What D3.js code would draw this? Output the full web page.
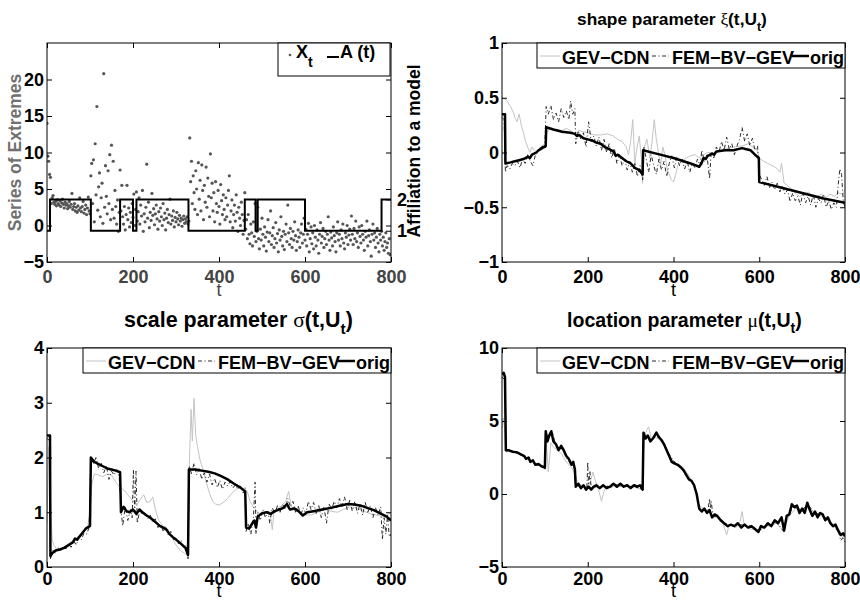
<!DOCTYPE html>
<html>
<head>
<meta charset="utf-8">
<script src="https://cdn.jsdelivr.net/npm/d3@7"></script>
<style>
  body { margin: 0; background: #fff; }
  svg { font-family: "Liberation Sans", Arial, Helvetica, sans-serif; font-weight: bold; }
</style>
</head>
<body>
<script>
// ---- data ----
const timeTicks = [0, 200, 400, 600, 800];

// series of extremes X_t, one value every 2 time steps starting at t = 0
const extremesStep = 2;
const extremes = [
  14.0, 9.5, 8.8, 7.0, 6.6,
  3.0, 3.8, 4.1, 3.2, 2.9, 3.3, 2.7, 3.5, 3.0, 2.8, 3.4, 2.6, 3.1, 3.6, 2.9, 2.4, 3.2, 2.8, 3.0, 2.3,
  2.7, 3.3, 2.5, 2.9, 4.4, 2.2, 2.6, 3.0, 2.0, 2.5, 1.8, 2.7, 2.1, 3.8, 2.4, 1.9, 2.6, 3.3, 1.7, 2.2,
  2.8, 1.5, 2.4, 3.9, 2.0, 1.6,
  6.8, 8.5, 3.0, 9.0, 0.5, 11.2, 4.2, 16.3, 2.1, 5.3, 7.2, 1.2, 3.8, 5.8, 0.3, 20.8, 2.5, 8.2, 4.0, 1.6,
  7.5, 3.0, 9.7, 0.8, 11.0, 2.2, 8.8, 1.0, 4.8, 2.6, 0.2, 3.5, -0.8, 1.8, 7.6,
  2.0, 5.5, 1.2, 0.2, 2.6, -0.6, 1.5, 5.5, 0.8, 2.4, -0.2, 1.8, 0.4, 3.0, 1.1, 4.3, 0.0, 2.2, 4.6, 0.6,
  1.9, 3.8, 0.2, 2.8, 1.3, 4.8, -0.8, 1.6, 0.5, 2.5, 8.4, 1.0, 3.2, -0.3, 1.8, 0.7, 4.4, 1.4, 2.3, 0.1,
  1.6, 2.8, 0.9, -0.5, 1.9, 0.6, 2.4, 1.2, 0.0, 3.0, 0.8, 1.7, -0.6, 1.0, 2.2, 0.4, 1.5, 3.6, 0.2, 1.3,
  0.7, 2.0, -0.2, 1.1, 0.5, 1.8, 0.9, 0.1, 1.4, 0.6, 1.0, -0.1, 0.8, 1.3, 0.3, 0.9, 0.5, 1.2, 0.2, 0.6,
  12.0, 6.0, 8.8, 3.0, 6.8, 4.5, 2.2, 7.5, 5.0, 1.5, 8.6, 3.6, 6.2, 2.0, 8.3, 4.8, 0.8, 5.5, 3.2, 8.0,
  2.5, 6.5, 4.0, 1.2, 9.8, 3.8, 5.8, 2.0, 4.5, 0.5, 6.0, 3.0, 1.8, 4.8, 2.6, 0.2, 5.6, 3.4, 1.5, 4.2,
  2.2, 0.8, 3.8, 1.2, 2.8, 4.8, 6.8, 0.5, 2.0, 3.5, -0.3, 1.5, 2.8, 0.6, 4.2, 1.8, -0.8, 2.5, 1.0, 0.0,
  3.2, 1.5, -1.2, 0.7, 4.5,
  -0.5, 0.8, -1.8, 1.5, -1.2, -2.5, 0.2, -1.0, -2.8, 0.5, -1.5, 3.0, -2.2, -0.8, 2.5, -1.8, -3.2, -0.5, -2.0, 1.0,
  -1.2, -2.8, -0.2, -1.6, -3.5, -0.9, 0.8, -2.2, -1.0, 2.0, -2.6, -1.4, -0.3, -3.0, -1.8, 0.4, -2.4, -1.1, -3.6, -0.6,
  -2.0, 1.2, -1.5, -2.8, -0.8, -3.3, -1.2, 0.2, -2.2, 2.8, -1.0, -2.6, -0.4, -1.8, -3.0, -0.8, -2.0, 0.5, -1.4, -3.4,
  -2.2, -0.6, -1.6, -3.0, -1.0, 0.2, -2.4, -1.2, 1.0, -2.0,
  -0.5, -2.8, -1.2, 0.3, -3.6, -1.8, -0.2, -2.5, -1.0, -3.2, 0.0, -1.6, -2.8, -0.6, -2.0, -3.8, -1.2, 0.4, -2.4, -1.5,
  -0.4, -3.0, -1.8, -0.8, -2.6, -1.2, 1.2, -2.0, -3.4, -0.9, -1.7, -2.8, -0.2, -1.4, -2.2, -3.6, -1.0, 0.5, -2.0, -1.2,
  -2.8, -0.6, -1.8, 0.2, -2.4, -3.2, -1.0, -1.6, 0.0, -2.6, -1.3, -0.5, -2.0, 1.3, -1.2, -2.6, -0.4, -1.8, 0.6, -2.2,
  -1.0, -3.0, -0.2, -1.5, -2.4, 0.0, -1.2, -2.0, -3.4, -0.8, -1.6, 0.6, -2.8, -1.4, -0.6, -2.2, -4.2, -1.2, 0.2, -2.0,
  -1.0, -3.0, -1.6, -0.4, -2.4, -3.6, -1.2, -2.0, -0.8, -2.8, -1.6, -3.4, -2.2, -1.0, -3.0, -2.4, -3.8, -1.8, -4.0
];

// affiliation to a model A(t): change points and the value from each on
const affiliationT = [0, 7, 102, 170, 200, 208, 329, 460, 485, 490, 600, 778, 800];
const affiliationV = [1, 2, 1, 2, 1, 2, 1, 2, 1, 2, 1, 2, 2];

// shape parameter xi(t,U_t)
const shapeOrig = [[0,0.35],[7,0.35],[8,-0.1],[20,-0.09],[30,-0.08],[40,-0.07],[50,-0.06],[60,-0.04],[65,-0.05],[70,-0.02],[80,0.0],[85,0.02],[90,0.03],[95,0.05],[100,0.05],[102,0.06],[103,0.23],[120,0.21],[140,0.19],[160,0.18],[170,0.17],[175,0.15],[180,0.16],[190,0.13],[200,0.12],[210,0.11],[220,0.09],[230,0.08],[240,0.05],[250,0.03],[260,0.01],[265,-0.03],[270,-0.02],[280,-0.05],[290,-0.08],[300,-0.1],[310,-0.14],[320,-0.16],[328,-0.2],[329,0.02],[360,-0.01],[400,-0.05],[440,-0.1],[460,-0.13],[465,-0.1],[470,-0.05],[475,-0.06],[480,-0.03],[490,-0.01],[495,-0.02],[500,0.01],[520,0.02],[540,0.02],[560,0.04],[570,0.03],[580,0.02],[590,-0.02],[599,-0.05],[600,-0.27],[650,-0.32],[700,-0.37],[750,-0.42],[800,-0.46]];
const shapeCdn = [[0,0.5],[10,0.48],[20,0.42],[25,0.38],[30,0.32],[35,0.28],[40,0.35],[45,0.25],[50,0.18],[55,0.1],[60,0.05],[65,0.0],[70,0.05],[75,0.02],[80,0.0],[90,0.05],[100,0.08],[105,0.18],[110,0.22],[120,0.2],[130,0.21],[140,0.2],[150,0.22],[160,0.2],[170,0.17],[180,0.2],[190,0.19],[200,0.18],[215,0.16],[230,0.16],[245,0.17],[260,0.15],[270,0.12],[280,0.1],[290,0.05],[295,-0.02],[300,0.1],[305,0.3],[310,-0.1],[315,0.05],[320,0.15],[325,-0.05],[328,-0.28],[332,0.05],[338,0.12],[345,-0.05],[350,0.1],[355,0.3],[360,0.12],[365,0.0],[370,-0.12],[375,0.05],[380,-0.02],[385,-0.15],[390,-0.2],[395,-0.25],[400,-0.27],[405,-0.2],[410,-0.12],[420,-0.08],[430,-0.05],[440,-0.03],[450,-0.02],[460,-0.05],[470,-0.02],[480,0.0],[500,0.0],[520,0.03],[540,0.05],[560,0.06],[575,0.08],[585,0.05],[595,0.02],[600,-0.05],[610,-0.08],[620,-0.1],[630,-0.12],[640,-0.14],[648,-0.18],[652,-0.1],[658,-0.28],[665,-0.3],[675,-0.33],[685,-0.38],[695,-0.4],[705,-0.38],[715,-0.36],[725,-0.42],[735,-0.4],[745,-0.38],[755,-0.41],[765,-0.38],[775,-0.4],[785,-0.37],[795,-0.38],[800,-0.34]];
const shapeFem = [[0,0.32],[5,0.3],[8,-0.18],[12,-0.12],[18,-0.15],[24,-0.1],[30,-0.12],[36,-0.08],[42,-0.14],[48,-0.06],[54,-0.1],[60,-0.02],[66,-0.08],[72,-0.12],[78,-0.02],[84,0.0],[90,0.05],[96,0.02],[100,0.08],[103,0.42],[108,0.35],[114,0.43],[120,0.3],[126,0.36],[132,0.28],[138,0.4],[144,0.32],[150,0.38],[156,0.3],[160,0.47],[165,0.35],[170,0.4],[172,0.08],[178,0.2],[184,0.12],[190,0.18],[196,0.05],[202,0.28],[208,0.1],[214,0.15],[220,0.06],[226,0.14],[232,0.02],[238,0.12],[244,0.0],[250,0.08],[256,-0.05],[262,0.04],[268,-0.1],[274,-0.02],[280,-0.12],[286,-0.06],[292,-0.16],[298,-0.08],[304,-0.18],[310,-0.1],[316,-0.22],[322,-0.12],[328,-0.25],[331,0.05],[336,-0.05],[342,-0.18],[348,-0.02],[354,-0.12],[360,-0.2],[366,-0.06],[372,-0.16],[378,-0.08],[384,-0.22],[390,-0.1],[396,-0.03],[402,-0.14],[408,-0.04],[414,-0.12],[420,-0.06],[426,-0.15],[432,-0.08],[438,-0.18],[444,-0.1],[450,-0.14],[456,-0.06],[462,-0.12],[466,0.02],[472,-0.08],[478,-0.02],[484,-0.24],[488,0.0],[494,-0.05],[500,0.05],[506,0.0],[512,0.1],[518,0.02],[524,0.14],[530,0.03],[536,0.08],[542,-0.02],[548,0.06],[554,0.12],[560,0.23],[566,0.1],[572,0.17],[578,0.06],[584,0.13],[590,0.02],[596,0.06],[600,-0.2],[606,-0.25],[612,-0.3],[618,-0.22],[624,-0.32],[630,-0.27],[636,-0.34],[642,-0.28],[648,-0.36],[654,-0.3],[660,-0.38],[666,-0.34],[672,-0.45],[678,-0.37],[684,-0.44],[690,-0.4],[696,-0.48],[702,-0.36],[708,-0.46],[714,-0.4],[720,-0.48],[726,-0.38],[732,-0.5],[738,-0.42],[744,-0.46],[750,-0.38],[756,-0.5],[762,-0.44],[768,-0.52],[774,-0.46],[780,-0.5],[784,-0.3],[788,-0.15],[792,-0.2],[796,-0.45],[800,-0.5]];

// scale parameter sigma(t,U_t)
const sigmaOrig = [[0,2.4],[7,2.4],[8,0.2],[12,0.25],[20,0.3],[30,0.32],[40,0.35],[50,0.4],[60,0.45],[65,0.52],[70,0.5],[80,0.6],[90,0.7],[100,0.75],[102,2.0],[110,1.92],[120,1.88],[130,1.84],[140,1.8],[150,1.78],[160,1.76],[170,1.73],[172,1.0],[178,1.1],[185,1.02],[192,1.0],[200,1.05],[208,0.97],[215,1.05],[222,1.0],[230,0.95],[240,0.9],[248,0.85],[255,0.8],[262,0.75],[270,0.72],[278,0.68],[285,0.6],[292,0.55],[300,0.5],[308,0.45],[315,0.4],[322,0.35],[328,0.22],[330,1.78],[345,1.78],[360,1.76],[375,1.74],[390,1.71],[405,1.66],[420,1.6],[435,1.52],[450,1.45],[461,1.38],[463,0.72],[470,0.7],[476,0.78],[482,0.85],[486,0.72],[490,0.92],[500,0.98],[510,1.0],[520,0.97],[530,1.02],[540,1.05],[550,1.08],[558,1.15],[565,1.05],[575,1.07],[585,1.02],[595,0.94],[605,1.0],[620,1.02],[640,1.05],[660,1.08],[680,1.12],[700,1.15],[715,1.14],[730,1.12],[745,1.08],[760,1.04],[775,0.98],[790,0.92],[800,0.85]];
const sigmaCdn = [[0,0.8],[4,2.2],[8,1.2],[12,0.5],[16,0.4],[25,0.3],[35,0.32],[45,0.38],[55,0.45],[65,0.5],[75,0.58],[85,0.65],[95,0.75],[100,1.0],[104,1.5],[110,1.7],[120,1.68],[130,1.65],[140,1.7],[150,1.68],[160,1.55],[170,1.45],[180,1.4],[190,1.3],[200,1.2],[210,1.15],[218,1.25],[225,1.32],[232,1.18],[240,1.2],[246,1.28],[252,1.05],[260,0.85],[270,0.75],[280,0.7],[290,0.55],[300,0.4],[310,0.3],[320,0.25],[328,0.2],[331,1.9],[335,2.88],[338,2.3],[342,3.08],[346,2.4],[350,2.2],[356,1.95],[362,1.8],[370,1.55],[378,1.35],[385,1.2],[392,1.15],[400,1.13],[410,1.18],[420,1.25],[430,1.35],[440,1.42],[450,1.46],[460,1.42],[466,1.38],[472,1.2],[480,1.1],[490,1.0],[500,0.95],[510,1.0],[518,1.02],[524,0.68],[528,1.02],[535,1.05],[545,1.12],[555,1.2],[562,1.38],[568,1.1],[578,1.05],[590,1.0],[600,0.95],[615,0.95],[630,1.0],[645,1.05],[660,1.02],[675,1.0],[690,1.05],[705,1.1],[720,1.08],[735,1.02],[750,0.98],[765,0.95],[780,0.92],[792,0.95],[800,1.0]];
const sigmaFem = [[0,2.35],[7,2.3],[8,0.15],[14,0.3],[20,0.25],[26,0.35],[32,0.3],[38,0.38],[44,0.33],[50,0.42],[56,0.36],[62,0.48],[68,0.4],[74,0.55],[80,0.5],[86,0.62],[92,0.6],[98,0.72],[102,1.95],[108,1.88],[114,2.0],[120,1.8],[126,1.9],[132,1.72],[138,1.85],[144,1.6],[150,1.75],[156,1.68],[162,1.78],[168,1.65],[172,1.05],[176,0.75],[182,1.1],[188,0.85],[194,1.05],[198,0.9],[201,1.78],[204,1.0],[207,1.75],[210,0.8],[216,1.05],[222,0.95],[228,1.0],[234,0.88],[240,0.95],[246,0.82],[252,0.88],[258,0.72],[264,0.78],[270,0.66],[276,0.75],[282,0.58],[288,0.65],[294,0.5],[300,0.55],[306,0.42],[312,0.48],[318,0.35],[324,0.4],[328,0.15],[331,1.85],[336,1.7],[342,1.9],[348,1.68],[354,1.8],[360,1.6],[366,1.72],[372,1.55],[378,1.7],[384,1.5],[390,1.62],[396,1.45],[402,1.58],[408,1.42],[414,1.55],[420,1.48],[426,1.56],[432,1.44],[438,1.5],[444,1.42],[450,1.48],[456,1.35],[461,1.45],[463,0.65],[468,0.8],[474,0.6],[480,0.9],[484,1.55],[486,0.6],[490,1.0],[496,0.85],[502,1.05],[508,0.9],[514,1.02],[518,0.8],[524,1.08],[530,0.98],[536,1.12],[542,1.0],[548,1.15],[554,1.05],[560,1.25],[566,1.1],[572,1.2],[578,1.0],[584,1.12],[590,0.95],[596,1.08],[602,0.98],[608,1.2],[614,1.05],[620,1.18],[626,0.98],[632,1.12],[638,0.9],[644,1.1],[650,0.8],[656,1.15],[662,1.05],[668,1.2],[674,1.08],[680,1.25],[686,1.1],[692,1.28],[698,1.05],[704,1.22],[710,1.02],[716,1.2],[722,0.98],[728,1.15],[734,0.95],[740,1.18],[746,1.0],[752,1.12],[758,0.9],[764,1.08],[770,0.95],[776,1.1],[780,0.5],[784,0.9],[788,0.6],[792,0.95],[796,0.55],[800,0.6]];

// location parameter mu(t,U_t)
const muOrig = [[0,8.2],[4,8.3],[7,8.0],[9,3.0],[15,3.0],[25,2.9],[35,2.85],[45,2.7],[52,2.6],[56,2.4],[62,2.5],[66,2.2],[72,2.3],[78,2.0],[85,2.05],[92,1.9],[100,1.8],[102,4.3],[106,3.6],[110,4.0],[115,4.3],[120,3.6],[126,3.4],[132,3.0],[138,3.3],[144,3.0],[150,2.6],[156,2.4],[162,2.0],[166,2.2],[170,1.7],[172,0.5],[178,0.7],[184,0.4],[190,0.6],[196,0.3],[202,0.5],[208,0.3],[214,0.5],[220,0.6],[228,0.4],[236,0.6],[244,0.4],[252,0.5],[260,0.7],[268,0.5],[276,0.7],[284,0.5],[292,0.6],[300,0.4],[308,0.6],[316,0.5],[322,0.6],[328,0.3],[330,4.2],[335,3.8],[340,4.0],[346,3.6],[352,3.8],[360,4.2],[366,3.9],[372,3.7],[378,3.4],[384,3.0],[390,2.6],[396,2.2],[402,2.1],[410,2.0],[418,1.8],[424,1.6],[430,1.3],[436,1.0],[442,0.9],[448,0.6],[454,0.0],[460,-1.0],[466,-1.2],[472,-1.0],[478,-1.3],[484,-1.1],[490,-1.6],[496,-1.4],[502,-1.5],[510,-1.8],[518,-2.0],[526,-2.2],[534,-2.1],[542,-2.2],[550,-2.0],[558,-2.3],[566,-2.1],[574,-2.3],[582,-2.2],[590,-2.4],[598,-2.6],[604,-2.2],[612,-2.3],[620,-2.0],[628,-2.2],[636,-1.8],[644,-2.0],[652,-1.6],[658,-2.5],[664,-1.5],[670,-1.4],[676,-0.7],[682,-0.9],[688,-0.8],[694,-1.3],[700,-1.0],[706,-1.3],[712,-0.6],[718,-1.1],[724,-1.5],[730,-1.2],[736,-1.6],[742,-1.3],[748,-1.4],[754,-1.8],[760,-1.6],[766,-2.0],[772,-2.2],[778,-2.1],[784,-2.5],[790,-2.8],[796,-2.7],[800,-2.9]];
const muCdn = [[0,4.5],[3,5.2],[6,4.5],[9,3.0],[20,2.9],[40,2.8],[60,2.4],[80,2.1],[100,1.8],[103,3.8],[108,1.5],[114,3.5],[120,3.2],[130,3.0],[140,2.7],[150,2.2],[160,1.9],[170,1.4],[175,0.9],[185,0.6],[195,0.5],[205,0.7],[212,1.5],[218,0.9],[225,0.3],[232,-0.5],[238,0.2],[245,0.6],[255,0.4],[265,0.7],[275,0.5],[285,0.6],[295,0.5],[305,0.6],[315,0.4],[328,0.3],[331,3.8],[338,4.4],[342,4.6],[348,3.8],[355,3.9],[365,3.8],[375,3.4],[385,3.0],[395,2.4],[405,2.0],[420,1.9],[435,1.3],[450,0.5],[460,-0.8],[470,-1.0],[480,-1.2],[490,-1.5],[500,-1.6],[515,-2.0],[524,-2.8],[530,-2.1],[545,-2.3],[555,-1.9],[560,-1.2],[565,-2.2],[580,-2.4],[600,-2.5],[620,-2.2],[640,-2.0],[655,-2.5],[670,-1.5],[685,-1.0],[700,-1.1],[715,-0.8],[730,-1.4],[745,-1.5],[760,-1.8],[775,-2.2],[790,-2.8],[800,-3.2]];
const muFem = [[0,8.0],[8,7.8],[9,2.9],[20,2.9],[35,2.8],[50,2.6],[65,2.3],[80,2.0],[95,1.9],[100,1.7],[102,4.1],[110,3.9],[118,4.2],[126,3.2],[134,3.1],[142,3.0],[150,2.5],[160,2.1],[168,2.0],[172,0.6],[182,0.5],[192,0.5],[198,0.4],[200,2.2],[202,0.4],[205,1.6],[208,0.4],[220,0.5],[235,0.5],[250,0.5],[265,0.6],[280,0.6],[295,0.5],[310,0.5],[328,0.3],[330,4.0],[340,3.9],[350,3.7],[360,4.0],[375,3.6],[390,2.7],[405,2.1],[420,1.8],[435,1.1],[450,0.5],[460,-1.0],[470,-1.1],[480,-1.2],[484,-0.3],[486,-1.0],[488,-0.5],[492,-1.5],[505,-1.6],[520,-2.0],[540,-2.2],[560,-2.1],[580,-2.2],[600,-2.5],[620,-2.1],[640,-1.9],[658,-2.6],[664,-1.6],[680,-0.9],[700,-1.1],[712,-0.7],[730,-1.3],[750,-1.5],[770,-2.1],[785,-2.6],[790,-3.2],[795,-3.0],[800,-3.3]];

// ---- drawing ----
const svg = d3.select('body').append('svg').attr('width', 860).attr('height', 602);
const fmt = d3.format('~g');
const cdnColor = '#c4c4c4', femColor = '#2a2a2a', femDash = '4,2.5,1,2.5';
let clipCount = 0;

class Panel {
  constructor(box, yDomain, yTicks) {
    this.box = box;
    this.yTicks = yTicks;
    this.x = d3.scaleLinear().domain([0, 800]).range([box.left, box.right]);
    this.y = d3.scaleLinear().domain(yDomain).range([box.bottom, box.top]);
    this.g = svg.append('g');

    const id = 'clip' + clipCount++;
    this.g.append('clipPath').attr('id', id).append('rect').
    attr('x', box.left).attr('y', box.top).
    attr('width', box.right - box.left).attr('height', box.bottom - box.top);
    this.plot = this.g.append('g').attr('clip-path', `url(#${id})`);
  }

  line(data, color, width, dash) {
    const path = d3.line().x(d => this.x(d[0])).y(d => this.y(d[1]));
    this.plot.append('path').datum(data).
    attr('d', path).
    attr('fill', 'none').
    attr('stroke', color).
    attr('stroke-width', width).
    attr('stroke-linejoin', 'round').
    attr('stroke-dasharray', dash || null);
  }

  styleAxis(sel, color) {
    sel.attr('font-family', null).attr('font-size', 18).attr('fill', null);
    sel.select('.domain').remove();
    sel.selectAll('line').attr('stroke', '#000');
    sel.selectAll('text').attr('fill', color);
  }

  drawAxes(xColor, tickPad, labelGap) {
    const b = this.box;
    this.g.append('g').attr('transform', `translate(0,${b.bottom})`).
    call(d3.axisBottom(this.x).tickValues(timeTicks).tickSize(-5).tickPadding(tickPad).tickFormat(fmt)).
    call(s => this.styleAxis(s, xColor));
    this.g.append('g').attr('transform', `translate(0,${b.top})`).
    call(d3.axisTop(this.x).tickValues(timeTicks).tickSize(-5).tickFormat('')).
    call(s => this.styleAxis(s, '#000'));
    this.g.append('g').attr('transform', `translate(${b.left},0)`).
    call(d3.axisLeft(this.y).tickValues(this.yTicks).tickSize(-5).tickPadding(3).tickFormat(fmt)).
    call(s => this.styleAxis(s, '#000'));
    this.g.append('g').attr('transform', `translate(${b.right},0)`).
    call(d3.axisRight(this.y).tickValues(this.yTicks).tickSize(-5).tickFormat('')).
    call(s => this.styleAxis(s, '#000'));
    this.g.append('rect').
    attr('x', b.left).attr('y', b.top).
    attr('width', b.right - b.left).attr('height', b.bottom - b.top).
    attr('fill', 'none').attr('stroke', '#000').attr('stroke-width', 1);

    this.g.append('text').text('t').
    attr('x', (b.left + b.right) / 2).attr('y', b.bottom + labelGap).
    attr('text-anchor', 'middle').attr('font-size', 18).
    attr('font-weight', 'normal').attr('fill', xColor);
  }

  // title text fitted to the width it has in the figure
  title(x, y, width, words, greek) {
    const size = 18;
    const g = this.g.append('g');
    const t = g.append('text').attr('font-size', size);
    t.append('tspan').text(words + ' ');
    t.append('tspan').attr('font-family', 'Liberation Serif, serif').attr('font-weight', 'normal').
    text(greek);
    t.append('tspan').text('(t,U');
    t.append('tspan').attr('font-size', size * 0.72).attr('dy', size * 0.33).text('t');
    t.append('tspan').attr('dy', -size * 0.33).text(')');
    const w = t.node().getBBox().width;
    g.attr('transform', `translate(${x},${y}) scale(${width / w})`);
  }

  modelLegend() {
    const b = this.box;
    const lx = b.right - 308, ly = b.top, h = 25, mid = ly + 13, base = ly + 21;
    const leg = this.g.append('g');
    leg.append('rect').attr('x', lx).attr('y', ly).attr('width', 308).attr('height', h).
    attr('fill', '#fff').attr('stroke', '#000');
    const items = [
      { label: 'GEV\u2212CDN', color: cdnColor, width: 1, dash: null, line: [3, 23], text: 25 },
      { label: 'FEM\u2212BV\u2212GEV', color: femColor, width: 1, dash: femDash, line: [115, 132], text: 135 },
      { label: 'orig', color: '#000', width: 2.5, dash: null, line: [255, 272], text: 273 }];
    items.forEach(it => {
      leg.append('line').attr('x1', lx + it.line[0]).attr('x2', lx + it.line[1]).
      attr('y1', mid).attr('y2', mid).
      attr('stroke', it.color).attr('stroke-width', it.width).attr('stroke-dasharray', it.dash);
      leg.append('text').attr('x', lx + it.text).attr('y', base).attr('font-size', 18).text(it.label);
    });
  }
}

// top left: series of extremes and affiliation
const p1 = new Panel({ left: 47, right: 391, top: 43, bottom: 262 }, [-5, 25], [-5, 0, 5, 10, 15, 20]);
const affScale = d3.scaleLinear().domain([0, 7]).range([p1.box.bottom, p1.box.top]);
p1.plot.append('g').selectAll('circle').
data(extremes).enter().append('circle').
attr('cx', (d, i) => p1.x(i * extremesStep)).
attr('cy', d => p1.y(d)).
attr('r', 1.6).
attr('fill', '#555');
p1.plot.append('path').
datum(affiliationT.map((t, i) => [t, affiliationV[i]])).
attr('d', d3.line().curve(d3.curveStepAfter).x(d => p1.x(d[0])).y(d => affScale(d[1]))).
attr('fill', 'none').attr('stroke', '#000').attr('stroke-width', 2);
p1.drawAxes('#444', 8, 34);
p1.g.append('g').attr('transform', `translate(${p1.box.right},0)`).
call(d3.axisRight(affScale).tickValues([1, 2]).tickSize(-5).tickPadding(6).tickFormat(fmt)).
call(s => p1.styleAxis(s, '#000'));

p1.g.append('text').text('Series of Extremes').
attr('transform', `translate(21,${(p1.box.top + p1.box.bottom) / 2}) rotate(-90)`).
attr('text-anchor', 'middle').attr('font-size', 17.5).attr('fill', '#707070');
p1.g.append('text').text('Affiliation to a model').
attr('transform', `translate(420,151) rotate(-90)`).
attr('text-anchor', 'middle').attr('font-size', 17.5).attr('fill', '#000');

// legend of the top left panel
const leg1 = p1.g.append('g');
const l1x = p1.box.right - 113, l1y = p1.box.top;
leg1.append('rect').attr('x', l1x).attr('y', l1y).attr('width', 112).attr('height', 33).
attr('fill', '#fff').attr('stroke', '#000');
leg1.append('circle').attr('cx', l1x + 12).attr('cy', l1y + 12).attr('r', 1.3).attr('fill', '#555');
const x1t = leg1.append('text').attr('x', l1x + 18).attr('y', l1y + 15).attr('font-size', 18);
x1t.append('tspan').text('X');
x1t.append('tspan').attr('font-size', 14).attr('dy', 9).text('t');
leg1.append('line').attr('x1', l1x + 49).attr('x2', l1x + 61).attr('y1', l1y + 14).attr('y2', l1y + 14).
attr('stroke', '#000').attr('stroke-width', 2);
leg1.append('text').attr('x', l1x + 62).attr('y', l1y + 15).attr('font-size', 18).text('A (t)');

// top right: shape
const p2 = new Panel({ left: 502, right: 845, top: 43, bottom: 262 }, [-1, 1], [-1, -0.5, 0, 0.5, 1]);
p2.line(shapeCdn, cdnColor, 1);
p2.line(shapeFem, femColor, 1, femDash);
p2.line(shapeOrig, '#000', 2.5);
p2.drawAxes('#000', 8, 34);
p2.title(577, 25, 190, 'shape parameter', '\u03be');
p2.modelLegend();

// bottom left: scale
const p3 = new Panel({ left: 47, right: 391, top: 348, bottom: 567 }, [0, 4], [0, 1, 2, 3, 4]);
p3.line(sigmaCdn, cdnColor, 1);
p3.line(sigmaFem, femColor, 1, femDash);
p3.line(sigmaOrig, '#000', 2.5);
p3.drawAxes('#000', 5, 30);
p3.title(124, 327, 229, 'scale parameter', '\u03c3');
p3.modelLegend();

// bottom right: location
const p4 = new Panel({ left: 502, right: 845, top: 348, bottom: 567 }, [-5, 10], [-5, 0, 5, 10]);
p4.line(muCdn, cdnColor, 1);
p4.line(muFem, femColor, 1, femDash);
p4.line(muOrig, '#000', 2.5);
p4.drawAxes('#000', 5, 30);
p4.title(567, 327, 235, 'location parameter', '\u03bc');
p4.modelLegend();
</script>
</body>
</html>
